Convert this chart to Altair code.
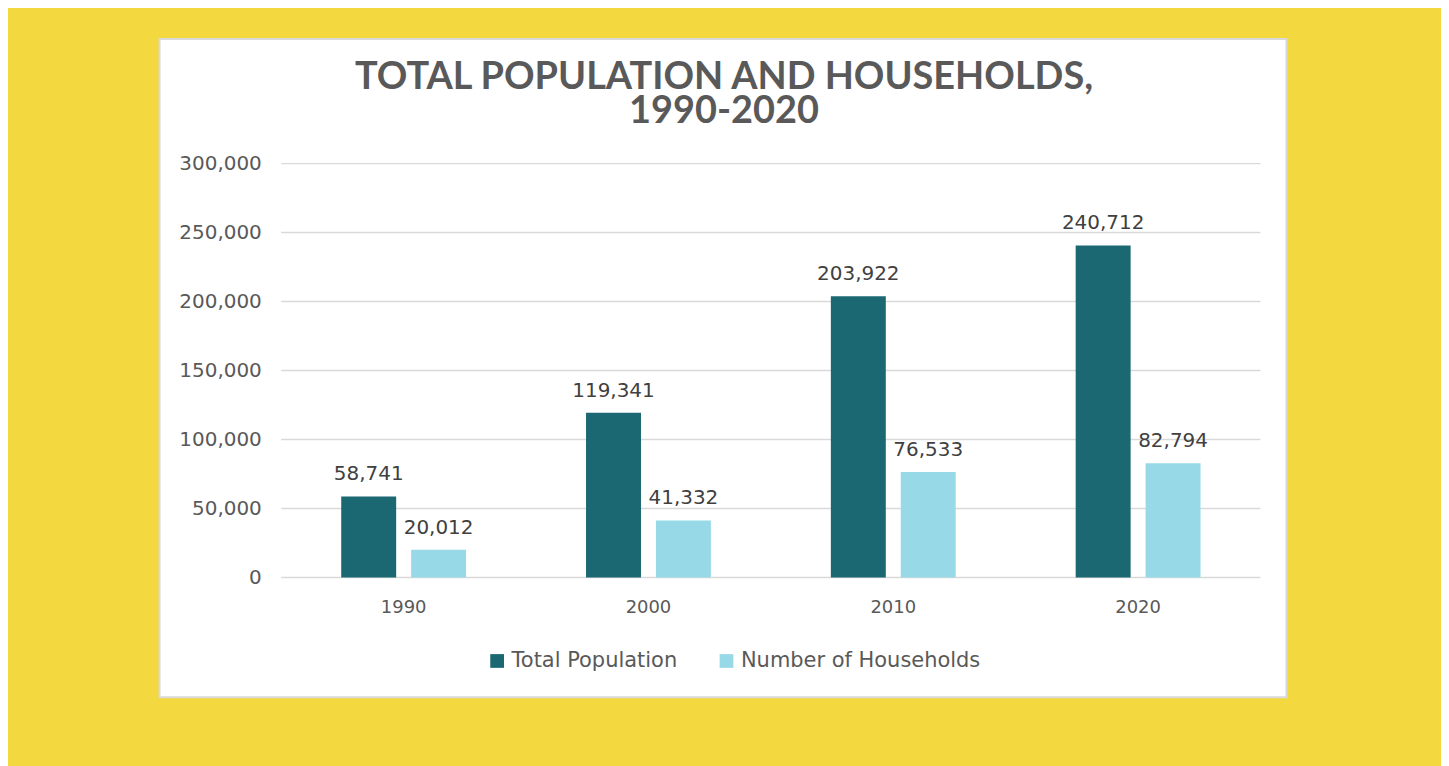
import altair as alt
import pandas as pd

years = ["1990", "2000", "2010", "2020"]
population = [58741, 119341, 203922, 240712]
households = [20012, 41332, 76533, 82794]
series_names = ["Total Population", "Number of Households"]
y_ticks = [0, 50000, 100000, 150000, 200000, 250000, 300000]

rows = []
for i, yr in enumerate(years):
    rows.append({"year": yr, "series": series_names[0], "value": population[i]})
    rows.append({"year": yr, "series": series_names[1], "value": households[i]})
df = pd.DataFrame(rows)
ticks_df = pd.DataFrame({"v": y_ticks})

W, H = 982, 415
yscale = alt.Scale(domain=[0, 300000], nice=False)
color_scale = alt.Scale(domain=series_names, range=["#1B6873", "#98D9E8"])
y_axis = alt.Axis(values=y_ticks, labelExpr="format(datum.value, ',')", grid=False,
                  domain=False, ticks=False,
                  labelFont="DejaVu Sans", labelFontSize=20, labelColor="#595959",
                  labelPadding=20, zindex=1)

panel = alt.Chart(alt.Data(values=[{"a": 1}])).mark_rect(
    fill="white", stroke="#D9D9D9", strokeWidth=2
).encode(
    x=alt.value(-122), x2=alt.value(1008), y=alt.value(-125), y2=alt.value(535)
)

grid = alt.Chart(ticks_df).mark_rule(color="#D9D9D9", strokeWidth=1.5).encode(
    y=alt.Y("v:Q", scale=yscale, title=None, axis=y_axis)
)

base = alt.Chart(df).encode(
    x=alt.X("year:N", sort=years, title=None,
            scale=alt.Scale(paddingInner=0.49, paddingOuter=0.245),
            axis=alt.Axis(labelAngle=0, labelFont="DejaVu Sans", labelFontSize=18,
                          labelColor="#595959", labelPadding=21, domain=False, ticks=False,
                          zindex=1)),
    xOffset=alt.XOffset("series:N", sort=series_names,
                        scale=alt.Scale(paddingInner=0.214, paddingOuter=0)),
)

bars = base.mark_bar().encode(
    y=alt.Y("value:Q", scale=yscale, title=None, axis=y_axis),
    color=alt.Color("series:N", scale=color_scale, sort=series_names, title=None,
                    legend=alt.Legend(orient="none", legendX=206, legendY=488,
                                      direction="horizontal", symbolType="square",
                                      symbolSize=190, symbolStrokeWidth=0,
                                      labelFont="DejaVu Sans", labelFontSize=21,
                                      labelColor="#595959", columnPadding=38,
                                      symbolOffset=0, labelOffset=4, labelLimit=400,
                                      zindex=1)),
)

labels = base.mark_text(baseline="bottom", dy=-12, font="DejaVu Sans", fontSize=20,
                        color="#404040").encode(
    y=alt.Y("value:Q", scale=yscale, axis=y_axis),
    text=alt.Text("value:Q", format=","),
)

chart = alt.layer(panel, grid, bars, labels).properties(
    width=W, height=H,
    autosize=alt.AutoSizeParams(type="none"),
    padding={"left": 274, "top": 155, "right": 181, "bottom": 188},
    background="#F3D93F",
    title=alt.TitleParams(
        text=["TOTAL POPULATION AND HOUSEHOLDS,", "1990-2020"],
        font="Lato", fontSize=38, fontWeight="bold", color="#595959",
        anchor="middle", frame="group", dx=-47, offset=-93, lineHeight=34,
        zindex=1,
    ),
).configure_view(stroke=None)

chart.save("out.html", embed_options={"renderer": "svg", "actions": False})
